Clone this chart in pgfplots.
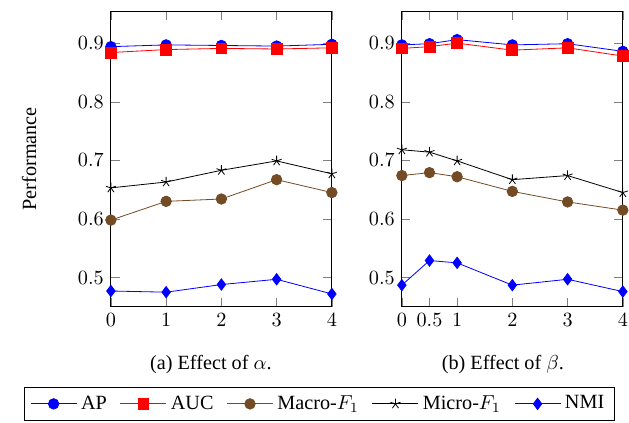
\documentclass[border=0pt]{standalone}
\usepackage{fontspec}
\setmainfont{Liberation Serif}
\usepackage{pgfplots}
\pgfplotsset{compat=1.18}
\usepackage{pgfplotstable}

% effect of alpha
\pgfplotstableread{
x   AP    AUC   Macro Micro NMI
0   0.894 0.884 0.598 0.653 0.477
1   0.897 0.889 0.630 0.663 0.475
2   0.896 0.891 0.634 0.683 0.488
3   0.895 0.890 0.667 0.699 0.497
4   0.898 0.892 0.645 0.677 0.472
}\alphatab

% effect of beta
\pgfplotstableread{
x   AP    AUC   Macro Micro NMI
0   0.897 0.891 0.674 0.718 0.487
0.5 0.899 0.894 0.679 0.714 0.529
1   0.906 0.900 0.672 0.699 0.525
2   0.897 0.888 0.647 0.667 0.487
3   0.899 0.892 0.629 0.674 0.497
4   0.886 0.878 0.615 0.645 0.476
}\betatab

\pgfplotsset{
  perf/.style={
    scale only axis, width=109.4pt, height=146.5pt,
    xmin=0, xmax=4,
    ymin=0.45, ymax=0.955,
    ytick={0.5,0.6,0.7,0.8,0.9},
    yticklabel style={/pgf/number format/fixed,
      /pgf/number format/precision=1,
      /pgf/number format/fixed zerofill},
  },
  s ap/.style={blue, mark=*, mark size=2.6pt, mark options={fill=blue}},
  s auc/.style={red, mark=square*, mark size=2.7pt, mark options={fill=red}},
  s macro/.style={brown!60!black, mark=*, mark size=2.6pt, mark options={fill=brown!60!black}},
  s micro/.style={black, mark=star, mark size=2.6pt},
  s nmi/.style={blue, mark=diamond*, mark size=2.8pt, mark options={fill=blue}},
}

\begin{document}
\begin{tikzpicture}
\path[use as bounding box] (-54.9pt,-57.4pt) rectangle (256.5pt,151.9pt);

\begin{axis}[perf, name=left, at={(0,0)}, anchor=south west,
    xtick={0,1,2,3,4},
    ylabel=Performance,
    ylabel style={at={(axis description cs:-0.37,0.5)}, anchor=center},
    legend columns=-1,
    legend style={at={(axis description cs:0.943,-0.328)}, anchor=center,
      draw=black, font=\normalsize,
      /tikz/every even column/.append style={column sep=4.5pt}},
    legend image code/.code={%
      \draw[mark repeat=2,mark phase=2] plot coordinates {(0cm,0cm) (0.4cm,0cm) (0.8cm,0cm)};},
  ]
  \addplot[s ap] table[x=x, y=AP] {\alphatab};
  \addplot[s auc] table[x=x, y=AUC] {\alphatab};
  \addplot[s macro] table[x=x, y=Macro] {\alphatab};
  \addplot[s micro] table[x=x, y=Micro] {\alphatab};
  \addplot[s nmi] table[x=x, y=NMI] {\alphatab};
  \legend{AP, AUC, Macro-$F_1$, Micro-$F_1$, NMI}
\end{axis}

\begin{axis}[perf, name=right, at={(144.05pt,0)}, anchor=south west,
    xtick={0,0.5,1,2,3,4},
  ]
  \addplot[s ap] table[x=x, y=AP] {\betatab};
  \addplot[s auc] table[x=x, y=AUC] {\betatab};
  \addplot[s macro] table[x=x, y=Macro] {\betatab};
  \addplot[s micro] table[x=x, y=Micro] {\betatab};
  \addplot[s nmi] table[x=x, y=NMI] {\betatab};
\end{axis}

\node at ([xshift=49.5pt,yshift=-28.7pt]left.south west) {(a) Effect of $\alpha$.};
\node at ([xshift=50pt,yshift=-28.7pt]right.south west) {(b) Effect of $\beta$.};
\end{tikzpicture}
\end{document}
